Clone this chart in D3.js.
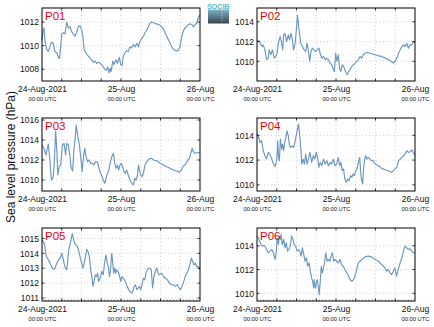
<!DOCTYPE html>
<html><head><meta charset="utf-8">
<script src="https://cdn.jsdelivr.net/npm/d3@7"></script>
<style>
html,body{margin:0;padding:0;background:#fff;}
svg{display:block;font-family:"Liberation Sans",Arial,sans-serif;}
</style></head>
<body><svg id="c" width="434" height="327"></svg>
<script>
// ---- data: [hours since 24-Aug-2021 00:00 UTC, sea level pressure hPa]
const stations = ["P01","P02","P03","P04","P05","P06"];
const p01 = [[0,1010.5],[0.3,1011.3],[0.6,1011.5],[0.9,1010.4],[1.4,1009.7],[1.9,1009.5],[2.4,1009.9],[2.9,1010.3],[3.4,1010.2],[3.9,1009.5],[4.5,1009.4],[5.0,1009.0],[5.3,1008.9],[5.7,1010.0],[6.0,1011.0],[6.5,1011.1],[7.0,1011.0],[7.5,1012.0],[8.0,1011.5],[8.5,1011.6],[9.0,1011.2],[9.5,1011.0],[10.0,1010.8],[10.5,1011.1],[11.0,1011.6],[11.5,1011.7],[12.1,1011.3],[12.4,1010.8],[12.8,1009.7],[13.3,1009.4],[13.8,1009.2],[14.4,1009.0],[15.1,1008.8],[15.6,1008.6],[16.1,1008.7],[16.6,1008.5],[17.1,1008.6],[17.6,1008.5],[18.1,1008.4],[18.6,1008.2],[19.1,1008.0],[19.6,1007.9],[19.9,1008.2],[20.4,1007.7],[20.7,1008.1],[21.0,1007.8],[21.5,1008.7],[21.9,1008.4],[22.5,1008.8],[22.9,1008.5],[23.5,1009.0],[23.9,1008.4],[24.3,1008.3],[24.7,1009.1],[25.2,1009.4],[25.7,1009.6],[26.2,1009.5],[26.7,1009.9],[27.2,1009.8],[27.7,1010.1],[28.3,1009.9],[28.8,1010.2],[29.3,1009.9],[29.8,1010.4],[30.3,1010.6],[30.8,1010.8],[31.3,1011.1],[31.8,1011.3],[32.3,1011.6],[32.8,1011.9],[33.3,1012.0],[33.8,1011.95],[34.3,1011.9],[34.8,1011.85],[35.3,1011.8],[35.8,1011.75],[36.4,1011.6],[36.9,1011.4],[37.4,1011.1],[37.9,1010.8],[38.4,1010.5],[38.9,1010.2],[39.4,1009.9],[39.9,1009.7],[40.4,1009.6],[40.9,1009.55],[41.4,1009.6],[41.9,1009.9],[42.4,1010.7],[42.9,1011.2],[43.4,1011.5],[43.9,1011.6],[44.5,1011.8],[45.0,1011.85],[45.5,1011.8],[46.0,1011.6],[46.5,1011.8],[47.0,1011.9],[47.5,1012.4],[48.0,1012.6]];
const p02 = [[0,1012.0],[0.6,1012.1],[1.2,1011.66],[1.6,1011.5],[1.9,1011.66],[2.4,1011.16],[2.9,1010.15],[3.4,1010.32],[3.7,1011.16],[4.2,1010.66],[4.7,1011.16],[5.2,1010.32],[5.7,1010.49],[6.1,1010.82],[6.5,1011.83],[7.0,1012.5],[7.3,1012.17],[7.8,1011.16],[8.1,1012.67],[8.5,1012.84],[9.0,1012.0],[9.5,1012.67],[9.9,1012.17],[10.3,1012.84],[10.7,1012.34],[11.1,1011.16],[11.6,1011.83],[11.9,1013.0],[12.3,1014.69],[12.6,1013.68],[12.9,1012.84],[13.3,1011.83],[13.8,1011.5],[14.3,1011.16],[14.8,1011.0],[15.2,1011.83],[15.6,1011.16],[16.0,1009.98],[16.4,1011.0],[16.8,1011.33],[17.3,1011.16],[17.8,1011.0],[18.3,1011.16],[18.8,1011.33],[19.3,1010.66],[19.7,1010.32],[20.2,1010.49],[20.7,1010.15],[21.2,1010.32],[21.7,1010.15],[22.2,1009.82],[22.7,1009.65],[23.2,1009.14],[23.5,1008.97],[23.9,1010.82],[24.3,1009.98],[24.7,1010.66],[25.1,1009.31],[25.5,1008.97],[25.9,1009.65],[26.3,1009.48],[26.7,1009.14],[27.1,1008.81],[27.5,1008.64],[27.8,1008.97],[28.3,1009.14],[28.8,1009.48],[29.3,1009.65],[29.8,1009.82],[30.3,1009.98],[30.8,1010.15],[31.3,1010.49],[31.8,1010.32],[32.3,1010.66],[32.8,1010.82],[33.3,1010.89],[33.8,1010.89],[34.3,1010.82],[34.9,1010.76],[35.9,1010.66],[36.9,1010.55],[37.9,1010.49],[38.9,1010.32],[39.9,1010.15],[40.9,1009.98],[41.4,1009.82],[41.9,1009.98],[42.5,1010.32],[43.0,1010.82],[43.5,1011.16],[44.0,1011.5],[44.5,1011.66],[45.0,1011.5],[45.5,1011.83],[46.0,1011.33],[46.5,1011.66],[47.0,1011.66],[47.5,1012.0],[48.0,1011.9]];
const p03 = [[0,1013.5],[0.6,1013.17],[1.2,1012.5],[1.9,1013.6],[2.4,1012.0],[2.6,1011.0],[2.9,1010.0],[3.4,1010.3],[3.7,1011.5],[4.15,1014.9],[4.5,1013.0],[4.8,1010.5],[5.2,1011.33],[5.7,1011.5],[6.2,1013.5],[6.7,1013.67],[7.2,1012.5],[7.5,1013.67],[8.0,1013.5],[8.5,1012.33],[8.8,1011.33],[9.3,1010.9],[9.7,1013.0],[10.2,1014.67],[10.4,1015.5],[10.9,1014.33],[11.3,1013.67],[11.75,1012.33],[12.2,1010.83],[12.6,1012.33],[13.0,1013.17],[13.4,1012.33],[13.8,1011.83],[14.3,1012.0],[14.8,1011.67],[15.3,1011.67],[15.8,1011.5],[16.3,1011.83],[16.8,1011.83],[17.2,1011.33],[17.6,1010.83],[18.1,1010.5],[18.6,1010.0],[19.1,1009.67],[19.7,1010.5],[20.2,1010.83],[20.7,1011.67],[21.2,1012.33],[21.7,1012.67],[22.1,1011.67],[22.5,1011.17],[22.9,1011.5],[23.3,1011.0],[23.7,1011.5],[24.1,1011.67],[24.5,1011.33],[24.9,1010.83],[25.3,1010.67],[25.7,1011.0],[26.2,1010.5],[26.7,1010.0],[27.3,1009.67],[27.8,1009.5],[28.2,1010.17],[28.6,1010.0],[29.0,1010.5],[29.3,1011.5],[29.6,1011.0],[30.0,1010.5],[30.4,1010.33],[30.8,1010.67],[31.3,1011.5],[31.8,1011.83],[32.3,1012.0],[32.8,1012.17],[33.3,1012.17],[33.8,1012.0],[34.9,1011.93],[35.9,1011.67],[36.9,1011.5],[37.9,1011.33],[38.9,1011.17],[39.9,1011.0],[40.9,1010.9],[41.7,1010.77],[42.2,1010.93],[42.8,1011.33],[43.3,1011.5],[43.8,1011.67],[44.3,1012.0],[44.8,1012.17],[45.2,1012.67],[45.6,1013.17],[46.0,1012.83],[46.5,1012.67],[47.0,1012.73],[48.0,1012.73]];
const p04 = [[0,1014.09],[0.4,1013.96],[0.9,1013.42],[1.4,1013.56],[1.9,1012.75],[2.4,1012.35],[2.9,1012.08],[3.4,1012.62],[3.9,1012.48],[4.5,1012.08],[5.0,1011.68],[5.5,1011.49],[6.0,1011.95],[6.3,1013.56],[6.5,1012.35],[6.8,1011.95],[7.1,1013.69],[7.5,1012.89],[7.8,1013.29],[8.1,1012.75],[8.5,1013.56],[8.8,1013.83],[9.1,1014.36],[9.5,1013.96],[9.9,1013.15],[10.3,1013.02],[10.7,1013.15],[11.1,1013.02],[11.5,1013.42],[12.1,1014.23],[12.6,1014.9],[13.0,1013.96],[13.4,1012.62],[13.6,1011.68],[14.0,1012.08],[14.4,1011.68],[14.8,1012.48],[15.2,1011.68],[15.6,1012.08],[16.1,1012.62],[16.6,1011.81],[17.1,1012.35],[17.6,1012.08],[18.0,1012.62],[18.4,1012.21],[18.8,1011.41],[19.2,1011.81],[19.7,1011.54],[20.2,1012.08],[20.7,1011.68],[21.2,1011.95],[21.7,1011.54],[22.2,1011.81],[22.7,1011.68],[23.2,1012.08],[23.7,1011.54],[24.2,1011.68],[24.7,1012.21],[25.1,1011.54],[25.5,1011.81],[25.9,1011.14],[26.3,1011.28],[26.7,1010.47],[27.1,1010.2],[27.6,1010.47],[28.0,1010.34],[28.4,1010.74],[28.8,1010.6],[29.2,1010.87],[29.6,1010.74],[30.0,1011.14],[30.4,1011.28],[30.8,1011.81],[31.2,1012.21],[31.5,1011.01],[31.8,1010.34],[32.1,1010.07],[32.4,1011.41],[32.7,1012.08],[33.0,1012.35],[33.4,1012.08],[33.8,1012.21],[34.3,1012.08],[34.8,1011.95],[35.3,1011.95],[35.9,1011.68],[36.9,1011.54],[37.9,1011.33],[38.9,1011.22],[39.9,1011.14],[40.9,1011.01],[41.4,1011.14],[41.9,1011.28],[42.5,1011.41],[43.0,1011.95],[43.5,1012.08],[44.0,1012.21],[44.5,1012.35],[45.0,1012.48],[45.5,1012.75],[46.0,1012.62],[46.5,1012.67],[47.0,1012.83],[47.5,1012.62],[48.0,1012.35]];
const p05 = [[0,1014.89],[0.4,1014.78],[0.8,1014.56],[1.2,1013.89],[1.6,1013.67],[2.0,1013.56],[2.4,1013.33],[2.9,1013.11],[3.4,1012.93],[3.95,1013.0],[4.5,1013.33],[5.0,1013.56],[5.5,1013.67],[6.0,1014.0],[6.3,1013.78],[6.7,1013.33],[7.1,1013.0],[7.5,1012.89],[7.8,1013.44],[8.1,1014.22],[8.5,1014.56],[8.9,1015.0],[9.2,1015.33],[9.5,1015.0],[9.9,1014.67],[10.3,1014.56],[10.7,1014.49],[11.1,1014.22],[11.55,1013.78],[11.95,1013.44],[12.4,1013.0],[12.8,1013.33],[13.2,1013.78],[13.6,1014.27],[14.0,1014.11],[14.4,1013.78],[14.8,1012.89],[15.2,1012.33],[15.5,1011.78],[15.9,1012.22],[16.2,1012.56],[16.6,1012.44],[16.9,1012.67],[17.2,1012.11],[17.6,1012.33],[17.9,1012.56],[18.2,1012.78],[18.6,1012.56],[19.0,1013.33],[19.45,1013.89],[19.85,1013.33],[20.2,1013.0],[20.5,1012.44],[20.8,1012.89],[21.2,1014.0],[21.5,1013.33],[21.8,1012.67],[22.1,1013.0],[22.4,1012.67],[22.7,1012.89],[23.1,1012.78],[23.5,1012.56],[23.9,1012.11],[24.3,1012.44],[24.7,1012.33],[25.1,1012.22],[25.5,1012.0],[25.9,1011.78],[26.3,1011.56],[26.7,1011.44],[27.2,1011.33],[27.6,1011.44],[28.0,1011.78],[28.4,1011.89],[28.8,1011.56],[29.2,1011.67],[29.6,1011.78],[30.0,1011.56],[30.4,1011.89],[30.8,1012.33],[31.2,1012.22],[31.6,1012.67],[32.0,1012.89],[32.4,1013.0],[32.8,1013.0],[33.2,1012.89],[33.6,1011.67],[34.0,1012.44],[34.4,1012.78],[34.85,1013.0],[35.25,1012.67],[35.7,1012.56],[36.3,1012.67],[36.9,1012.44],[37.5,1012.33],[38.1,1012.22],[38.7,1012.0],[39.3,1011.89],[39.9,1011.89],[40.5,1011.78],[41.1,1011.89],[41.7,1011.67],[42.1,1011.56],[42.5,1011.78],[42.9,1012.0],[43.5,1012.44],[44.0,1012.67],[44.5,1012.89],[45.0,1013.33],[45.4,1013.67],[45.8,1013.44],[46.2,1013.22],[46.6,1013.33],[47.0,1013.11],[47.5,1013.11],[48.0,1012.89]];
const p06 = [[0,1014.82],[0.4,1014.68],[0.8,1014.39],[1.2,1014.11],[1.6,1013.97],[2.0,1014.03],[2.4,1013.97],[2.9,1013.69],[3.4,1013.41],[3.95,1013.55],[4.5,1013.69],[5.0,1013.41],[5.5,1012.85],[5.9,1013.55],[6.1,1014.68],[6.5,1014.11],[6.8,1014.82],[7.1,1014.54],[7.3,1014.96],[7.7,1014.11],[8.1,1014.54],[8.5,1013.83],[8.9,1014.25],[9.3,1013.55],[9.7,1013.69],[10.1,1013.97],[10.5,1014.82],[10.9,1014.54],[11.3,1014.11],[11.75,1013.97],[12.2,1013.55],[12.6,1013.69],[13.0,1013.55],[13.4,1013.13],[13.8,1013.83],[14.2,1013.27],[14.6,1012.70],[15.0,1012.99],[15.4,1012.28],[15.8,1012.56],[16.2,1011.86],[16.6,1011.30],[17.0,1010.87],[17.2,1010.45],[17.4,1011.15],[17.6,1010.59],[17.8,1010.45],[18.0,1010.87],[18.3,1011.15],[18.6,1010.59],[18.9,1009.89],[19.25,1011.15],[19.55,1012.28],[19.85,1011.72],[20.2,1012.14],[20.5,1012.56],[20.9,1013.41],[21.3,1012.70],[21.7,1012.85],[22.1,1012.70],[22.5,1013.13],[22.9,1013.41],[23.3,1012.70],[23.7,1012.85],[24.2,1012.70],[24.7,1012.56],[25.2,1012.85],[25.7,1012.42],[26.2,1012.28],[26.7,1012.0],[27.3,1011.72],[27.8,1011.44],[28.3,1011.15],[28.8,1011.01],[29.3,1011.15],[29.8,1011.44],[30.3,1012.0],[30.8,1012.56],[31.3,1012.70],[31.8,1012.85],[32.8,1013.07],[33.8,1013.13],[34.85,1013.07],[35.9,1012.85],[36.9,1012.70],[37.9,1012.42],[38.4,1012.28],[38.9,1012.14],[39.4,1011.86],[39.9,1012.0],[40.4,1011.72],[40.9,1011.58],[41.4,1011.86],[41.9,1012.14],[42.4,1011.44],[42.9,1012.0],[43.5,1012.56],[44.0,1012.99],[44.5,1013.55],[45.0,1013.97],[45.5,1013.83],[46.0,1013.69],[46.5,1013.75],[47.0,1013.55],[47.5,1013.41],[48.0,1013.41]];
const seriesList = [p01,p02,p03,p04,p05,p06];
const yDomains = [[1007,1013.2],[1008,1015.4],[1008.9,1016.2],[1009.5,1015.4],[1010.8,1015.7],[1009.35,1015.5]];
const yTicks = [[1008,1010,1012],[1010,1012,1014],[1010,1012,1014,1016],[1010,1012,1014],[1011,1012,1013,1014,1015],[1010,1012,1014]];
const xTickHours = [0,24,48];
const xTickLabels = ["24-Aug-2021","25-Aug","26-Aug"];
const xTickSub = "00:00 UTC";
const yLabel = "Sea level pressure (hPa)";

// ---- layout
const t0 = Date.UTC(2021,7,24,0,0);
const toDate = h => new Date(t0 + h*3600e3);
const colX = [42,257], plotW = 158;
const rowY = [8,118,228], plotH = 73;
const svg = d3.select("#c");

const defs = svg.append("defs");
const grad = defs.append("linearGradient").attr("id","lg").attr("x1",0).attr("y1",0).attr("x2",0).attr("y2",1);
grad.append("stop").attr("offset","0%").attr("stop-color","#7fb3c4");
grad.append("stop").attr("offset","100%").attr("stop-color","#36454f");

stations.forEach((name,i)=>{
  const col=i%2,row=Math.floor(i/2);
  const x0=colX[col], y0=rowY[row];
  const g=svg.append("g").attr("transform",`translate(${x0},${y0})`);
  const x=d3.scaleUtc().domain([toDate(0),toDate(48)]).range([0,plotW]);
  const y=d3.scaleLinear().domain(yDomains[i]).range([plotH,0]);
  const six=d3.range(6,48,6).map(toDate);
  // grid
  g.append("g").selectAll("line").data(six).join("line")
    .attr("x1",d=>x(d)).attr("x2",d=>x(d)).attr("y1",0).attr("y2",plotH)
    .attr("stroke","#c4c4c4").attr("stroke-width",0.8).attr("stroke-dasharray","1,2.5");
  g.append("g").selectAll("line").data(yTicks[i]).join("line")
    .attr("x1",0).attr("x2",plotW).attr("y1",d=>y(d)).attr("y2",d=>y(d))
    .attr("stroke","#c4c4c4").attr("stroke-width",0.8).attr("stroke-dasharray","1,2.5");
  // minor hourly ticks on bottom row
  if(row===2){
    g.append("g").selectAll("line").data(d3.range(1,48).map(toDate)).join("line")
      .attr("x1",d=>x(d)).attr("x2",d=>x(d)).attr("y1",plotH).attr("y2",plotH-1.5)
      .attr("stroke","#777").attr("stroke-width",0.7);
  }
  // line
  const line=d3.line().x(d=>x(toDate(d[0]))).y(d=>y(d[1]));
  g.append("path").datum(seriesList[i]).attr("d",line)
    .attr("fill","none").attr("stroke","#6a96c0").attr("stroke-width",1.15).attr("stroke-linejoin","round");
  // inward ticks
  const tk=g.append("g").attr("stroke","#000").attr("stroke-width",0.8);
  six.forEach(d=>{
    tk.append("line").attr("x1",x(d)).attr("x2",x(d)).attr("y1",plotH).attr("y2",plotH-2.5);
    tk.append("line").attr("x1",x(d)).attr("x2",x(d)).attr("y1",0).attr("y2",2.5);
  });
  yTicks[i].forEach(v=>{
    tk.append("line").attr("x1",0).attr("x2",2.5).attr("y1",y(v)).attr("y2",y(v));
    tk.append("line").attr("x1",plotW).attr("x2",plotW-2.5).attr("y1",y(v)).attr("y2",y(v));
  });
  // frame
  g.append("rect").attr("x",0).attr("y",0).attr("width",plotW).attr("height",plotH)
    .attr("fill","none").attr("stroke","#000").attr("stroke-width",1);
  // y axis labels
  const ya=d3.axisLeft(y).tickValues(yTicks[i]).tickSize(0).tickPadding(3).tickFormat(d3.format("d"));
  const yg=g.append("g").call(ya);
  yg.select(".domain").remove();
  yg.selectAll("text").attr("font-size",8.5).attr("fill","#111").attr("font-family","Liberation Sans, Arial, sans-serif");
  // x axis labels
  const xa=d3.axisBottom(x).tickValues(xTickHours.map(toDate)).tickSize(0).tickPadding(5)
    .tickFormat((d,k)=>xTickLabels[k]);
  const xg=g.append("g").attr("transform",`translate(0,${plotH})`).call(xa);
  xg.select(".domain").remove();
  xg.selectAll("text").attr("font-size",8.5).attr("fill","#111").attr("font-family","Liberation Sans, Arial, sans-serif");
  xg.selectAll(".tick").append("text").attr("y",19.5).attr("text-anchor","middle")
    .attr("font-size",5.8).attr("fill","#111").text(xTickSub);
  // station label
  g.append("text").attr("x",3).attr("y",12).attr("fill","#e8000b").attr("font-size",11.5).text(name);
});

// y title
svg.append("text").attr("transform","translate(15,157) rotate(-90)").attr("text-anchor","middle")
  .attr("font-size",12).attr("fill","#111").text(yLabel);

// logo
const lg=svg.append("g").attr("transform","translate(208,2)");
lg.append("text").attr("x",10).attr("y",6.5).attr("text-anchor","middle").attr("font-size",7.5)
  .attr("font-weight","bold").attr("fill","#5cc0d2").attr("letter-spacing",-0.3).text("SOCIB");
lg.append("rect").attr("x",0).attr("y",7.5).attr("width",21).attr("height",14).attr("fill","url(#lg)");
lg.append("line").attr("x1",14).attr("x2",14).attr("y1",8.5).attr("y2",20.5).attr("stroke","#fff")
  .attr("stroke-width",0.8).attr("stroke-dasharray","0.8,1.6");
</script></body></html>
